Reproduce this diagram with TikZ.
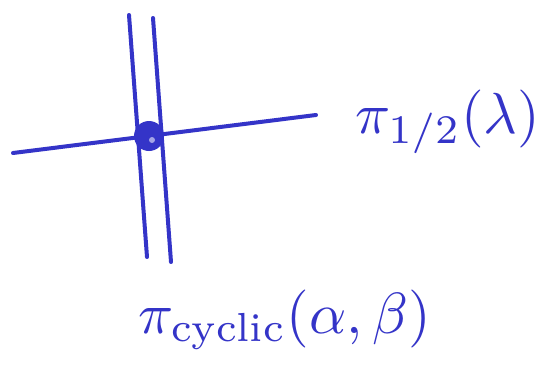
\documentclass[tikz,border=0pt]{standalone}
\usepackage{amsmath}
\usepackage{graphicx}
\definecolor{handblue}{RGB}{52,52,200}
\begin{document}
\begin{tikzpicture}[x=1pt,y=-1pt,
  stroke/.style={draw=handblue,line width=4pt,line cap=round},
  lbl/.style={text=handblue,inner sep=0pt}]
\useasboundingbox[fill=white] (0,0) rectangle (541,367);
\coordinate (v1t) at (129,15);
\coordinate (v1b) at (147,257);
\coordinate (v2t) at (153,18);
\coordinate (v2b) at (171,262);
\coordinate (hl) at (13,153);
\coordinate (hr) at (316,115);
\draw[stroke] (v1t) -- (v1b);
\draw[stroke] (v2t) -- (v2b);
\draw[stroke] (hl) -- (hr);
\node[circle,fill=handblue,minimum size=30pt,inner sep=0pt] (dot) at (149,136) {};
\fill[white!55!handblue] (dot.center) ++(3,4) circle (3pt);
\node[lbl,anchor=west] (top) at (355,122) {\scalebox{5.8}{$\pi_{1/2}(\lambda)$}};
\node[lbl,anchor=west] (bot) at (138,320) {\scalebox{5.8}{$\pi_{\text{cyclic}}(\alpha,\beta)$}};
\end{tikzpicture}
\end{document}
